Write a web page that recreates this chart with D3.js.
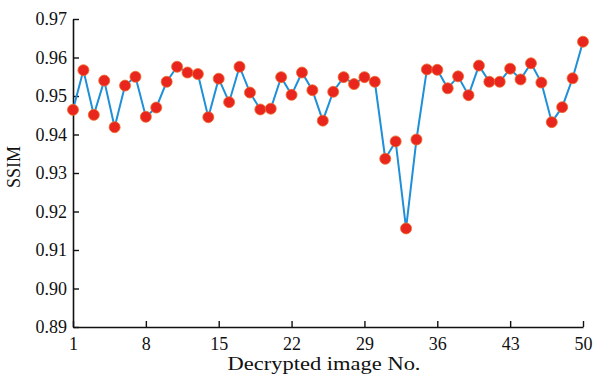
<!DOCTYPE html>
<html>
<head>
<meta charset="utf-8">
<script src="https://cdn.jsdelivr.net/npm/d3@7"></script>
<style>
  body { margin: 0; background: #fff; }
  svg text { font-family: "Liberation Serif", "DejaVu Serif", serif; fill: #111; }
</style>
</head>
<body>
<script>
const imageNo = d3.range(1, 51);
const ssim = [
  0.9464, 0.9567, 0.9451, 0.9540, 0.9419, 0.9527, 0.9550, 0.9446, 0.9470, 0.9537,
  0.9576, 0.9561, 0.9557, 0.9445, 0.9545, 0.9484, 0.9576, 0.9509, 0.9465, 0.9467,
  0.9549, 0.9503, 0.9561, 0.9515, 0.9436, 0.9511, 0.9549, 0.9531, 0.9549, 0.9537,
  0.9337, 0.9382, 0.9156, 0.9387, 0.9569, 0.9568, 0.9520, 0.9551, 0.9502, 0.9579,
  0.9537, 0.9537, 0.9571, 0.9543, 0.9585, 0.9535, 0.9432, 0.9471, 0.9546, 0.9641
];
const xTicks = [1, 8, 15, 22, 29, 36, 43, 50];
const yTicks = [0.89, 0.90, 0.91, 0.92, 0.93, 0.94, 0.95, 0.96, 0.97];

const w = 594, h = 376;
const margin = {left: 73, right: 11, top: 19, bottom: 49};

const svg = d3.select("body").append("svg")
  .attr("width", w)
  .attr("height", h);

const x = d3.scaleLinear()
  .domain([1, 50])
  .range([margin.left, w - margin.right]);

const y = d3.scaleLinear()
  .domain([0.89, 0.97])
  .range([h - margin.bottom, margin.top]);

const xAxis = d3.axisBottom(x)
  .tickValues(xTicks)
  .tickFormat(d3.format("d"))
  .tickSizeInner(-6)
  .tickSizeOuter(0)
  .tickPadding(10);

const yAxis = d3.axisLeft(y)
  .tickValues(yTicks)
  .tickFormat(d3.format(".2f"))
  .tickSizeInner(-6)
  .tickSizeOuter(0)
  .tickPadding(6);

const gx = svg.append("g")
  .attr("transform", `translate(0, ${h - margin.bottom})`)
  .call(xAxis);

const gy = svg.append("g")
  .attr("transform", `translate(${margin.left}, 0)`)
  .call(yAxis);

[gx, gy].forEach(g => {
  g.select(".domain").attr("stroke", "#111").attr("stroke-width", 1.6);
  g.selectAll(".tick line").attr("stroke", "#111").attr("stroke-width", 1.4);
  g.selectAll(".tick text")
    .style("font-family", "'Liberation Serif', serif")
    .style("font-size", "18px")
    .attr("fill", "#111");
});

// axis titles (reference font is wider than Times, so stretch a little)
svg.append("text")
  .attr("x", 324)
  .attr("y", 370)
  .attr("text-anchor", "middle")
  .attr("textLength", 193)
  .attr("lengthAdjust", "spacingAndGlyphs")
  .style("font-size", "18.5px")
  .text("Decrypted image No.");

svg.append("text")
  .attr("transform", "translate(20, 167) rotate(-90)")
  .attr("text-anchor", "middle")
  .style("font-size", "18px")
  .text("SSIM");

const line = d3.line()
  .x((d, i) => x(imageNo[i]))
  .y(d => y(d));

svg.append("path")
  .datum(ssim)
  .attr("fill", "none")
  .attr("stroke", "#1e8fd8")
  .attr("stroke-width", 2)
  .attr("d", line);

svg.selectAll("circle")
  .data(ssim)
  .enter()
  .append("circle")
  .attr("cx", (d, i) => x(imageNo[i]))
  .attr("cy", d => y(d))
  .attr("r", 5.5)
  .attr("fill", "#e8261e")
  .attr("stroke", "#f06a2a")
  .attr("stroke-width", 0.8);
</script>
</body>
</html>
